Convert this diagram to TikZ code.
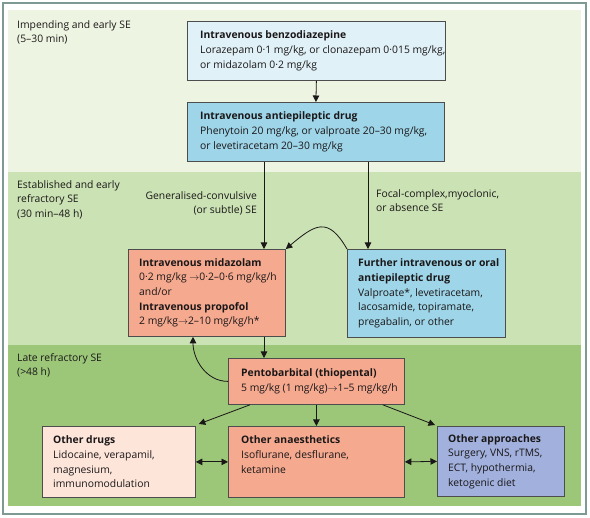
\documentclass[tikz,border=0pt]{standalone}
\usepackage{fontspec}
\setmainfont{Open Sans}
\usetikzlibrary{arrows.meta,calc}
\definecolor{framec}{HTML}{7F9995}
\definecolor{bandA}{HTML}{EEF4E2}
\definecolor{bandB}{HTML}{CBE2B4}
\definecolor{bandC}{HTML}{9CC779}
\definecolor{paleblue}{HTML}{E1F1F8}
\definecolor{midblue}{HTML}{9ED5E8}
\definecolor{salmon}{HTML}{F5A98F}
\definecolor{peach}{HTML}{FDE5DA}
\definecolor{lavender}{HTML}{A1B0DC}
\definecolor{boxline}{HTML}{4D4D4D}
\definecolor{textc}{HTML}{1A1718}
\begin{document}
\begin{tikzpicture}[x=1pt,y=-1pt,
  font=\fontsize{10.35}{14.7}\selectfont,
  box/.style={draw=boxline, line width=0.8pt, inner sep=0pt, anchor=north west},
  txt/.style={align=left, inner sep=0pt, anchor=west, text=textc},
  lbl/.style={align=left, inner sep=0pt, anchor=north west, text=textc},
  arr/.style={-{Triangle[length=6.5pt,width=6.5pt]}, line width=0.8pt, draw=textc},
  dbl/.style={{Triangle[length=6.5pt,width=6.5pt]}-{Triangle[length=6.5pt,width=6.5pt]}, line width=0.8pt, draw=textc}]
\useasboundingbox (0,0) rectangle (590,518);
\fill[white] (0,0) rectangle (590,518);
\draw[framec, line width=1.5pt] (3,3) rectangle (586,514);
\fill[bandA] (8,10) rectangle (581,172);
\fill[bandB] (8,172) rectangle (581,345);
\fill[bandC] (8,345) rectangle (581,506);

% band labels
\node[lbl] (l1) at (17,20) {Impending and early SE\\(5–30 min)};
\node[lbl] (l2) at (17,180) {Established and early\\refractory SE\\(30 min–48 h)};
\node[lbl] (l3) at (17,353) {Late refractory SE\\(>48 h)};

% boxes
\node[box, fill=paleblue, minimum width=258pt, minimum height=59pt] (b1) at (187,21) {};
\node[box, fill=midblue, minimum width=257pt, minimum height=59pt] (b2) at (187,102) {};
\node[box, fill=salmon, minimum width=157pt, minimum height=87pt] (b3) at (128,249) {};
\node[box, fill=midblue, minimum width=158pt, minimum height=88pt] (b4) at (347,249) {};
\node[box, fill=salmon, minimum width=176pt, minimum height=46pt] (b5) at (228,358) {};
\node[box, fill=peach, minimum width=153pt, minimum height=71pt] (b6) at (42,426) {};
\node[box, fill=salmon, minimum width=176pt, minimum height=71pt] (b7) at (228,426) {};
\node[box, fill=lavender, minimum width=127pt, minimum height=70pt] (b8) at (437,426) {};

% box texts
\node[txt] (t1) at ($(b1.west)+(13,0)$) {\textbf{Intravenous benzodiazepine}\\Lorazepam 0·1 mg/kg, or clonazepam 0·015 mg/kg,\\or midazolam 0·2 mg/kg};
\node[txt] (t2) at ($(b2.west)+(13,0)$) {\textbf{Intravenous antiepileptic drug}\\Phenytoin 20 mg/kg, or valproate 20–30 mg/kg,\\or levetiracetam 20–30 mg/kg};
\node[txt] (t3) at ($(b3.west)+(11,0)$) {\textbf{Intravenous midazolam}\\0·2 mg/kg $\rightarrow$0·2–0·6 mg/kg/h\\and/or\\\textbf{Intravenous propofol}\\2 mg/kg$\rightarrow$2–10 mg/kg/h*};
\node[txt] (t4) at ($(b4.west)+(11,0)$) {\textbf{Further intravenous or oral}\\\textbf{antiepileptic drug}\\Valproate*, levetiracetam,\\lacosamide, topiramate,\\pregabalin, or other};
\node[txt] (t5) at ($(b5.west)+(13,0)$) {\textbf{Pentobarbital (thiopental)}\\5 mg/kg (1 mg/kg)$\rightarrow$1–5 mg/kg/h};
\node[txt] (t6) at ($(b6.west)+(11,0)$) {\textbf{Other drugs}\\Lidocaine, verapamil,\\magnesium,\\immunomodulation};
\coordinate (c7) at ($(b7.west)+(13,0)$);
\node[lbl] (t7) at (c7 |- t6.north) {\textbf{Other anaesthetics}\\Isoflurane, desflurane,\\ketamine};
\node[txt] (t8) at ($(b8.west)+(11,0)$) {\textbf{Other approaches}\\Surgery, VNS, rTMS,\\ECT, hypothermia,\\ketogenic diet};

% branch labels
\node[align=right, inner sep=0pt, anchor=north east, text=textc] (g1) at (257,191) {Generalised-convulsive\\(or subtle) SE};
\node[lbl] (g2) at (376,189) {Focal-complex,myoclonic,\\or absence SE};

% connectors
\draw[arr] (b1.south) -- (b2.north);
\coordinate (c1) at ($(b2.south west)+(77,0)$);
\coordinate (c2) at ($(b2.south west)+(181,0)$);
\draw[arr] (c1) -- (c1 |- b3.north);
\draw[arr] (c2) -- (c2 |- b4.north);
\draw[arr] (b4.north west) to[out=120,in=40,looseness=1.6] (b3.north east);
\draw[arr] (c1 |- b3.south) -- (c1 |- b5.north);
\coordinate (c3) at ($(b3.south west)+(65,0)$);
\draw[arr] (b5.west) to[out=180,in=-90] (c3);
\draw[arr] (b5.south) -- (b7.north);
\coordinate (c4) at ($(b5.south west)+(22,0)$);
\coordinate (c5) at ($(b6.north east)+(3,-2)$);
\draw[arr] (c4) -- (c5);
\coordinate (c6) at ($(b5.south east)+(-22,0)$);
\coordinate (c8) at ($(b8.north west)+(-2,-1)$);
\draw[arr] (c6) -- (c8);
\draw[dbl] (b6.east) -- (b7.west);
\draw[dbl] (b7.east) -- (b8.west);
\end{tikzpicture}
\end{document}
